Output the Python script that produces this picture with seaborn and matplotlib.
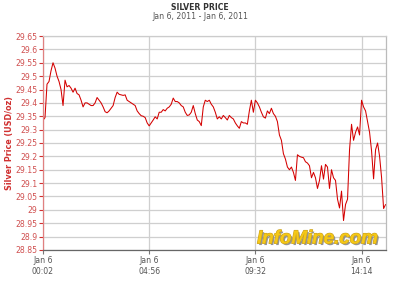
import matplotlib
matplotlib.use("Agg")
import matplotlib.pyplot as plt
import matplotlib.patheffects as pe
import seaborn as sns
import pandas as pd
import numpy as np

# ---- data ----
prices = [
    29.335, 29.345, 29.47, 29.48, 29.52, 29.55, 29.53, 29.50, 29.48, 29.45,
    29.39, 29.485, 29.46, 29.465, 29.455, 29.44, 29.455, 29.435, 29.43, 29.41,
    29.385, 29.40, 29.40, 29.395, 29.39, 29.39, 29.40, 29.42, 29.41, 29.40,
    29.385, 29.367, 29.363, 29.37, 29.38, 29.39, 29.42, 29.44, 29.432, 29.43,
    29.428, 29.43, 29.41, 29.405, 29.40, 29.395, 29.39, 29.37, 29.36, 29.352,
    29.35, 29.345, 29.325, 29.314, 29.325, 29.336, 29.348, 29.34, 29.365, 29.365,
    29.375, 29.37, 29.38, 29.385, 29.395, 29.418, 29.405, 29.405, 29.40, 29.39,
    29.385, 29.365, 29.353, 29.355, 29.365, 29.39, 29.36, 29.336, 29.33, 29.315,
    29.385, 29.41, 29.405, 29.41, 29.395, 29.385, 29.365, 29.34, 29.348, 29.34,
    29.353, 29.345, 29.336, 29.353, 29.345, 29.34, 29.325, 29.314, 29.305, 29.33,
    29.325, 29.325, 29.32, 29.37, 29.41, 29.365, 29.41, 29.40, 29.385, 29.365,
    29.348, 29.343, 29.37, 29.36, 29.38, 29.36, 29.35, 29.33, 29.28, 29.26,
    29.21, 29.19, 29.16, 29.15, 29.16, 29.14, 29.11, 29.206, 29.20, 29.197,
    29.195, 29.18, 29.175, 29.165, 29.12, 29.14, 29.12, 29.08, 29.11, 29.165,
    29.115, 29.17, 29.16, 29.08, 29.15, 29.12, 29.11, 29.04, 29.007, 29.07,
    28.96, 29.02, 29.04, 29.225, 29.32, 29.26, 29.29, 29.31, 29.28, 29.41,
    29.385, 29.37, 29.33, 29.29, 29.22, 29.116, 29.225, 29.25, 29.20, 29.12,
    29.005, 29.02,
]
tick_index = [0, 53, 106, 159]
tick_labels = ["Jan 6\n00:02", "Jan 6\n04:56", "Jan 6\n09:32", "Jan 6\n14:14"]
y_ticks = [28.85, 28.9, 28.95, 29.0, 29.05, 29.1, 29.15, 29.2, 29.25, 29.3,
           29.35, 29.4, 29.45, 29.5, 29.55, 29.6, 29.65]
y_tick_labels = ["28.85", "28.9", "28.95", "29", "29.05", "29.1", "29.15", "29.2",
                 "29.25", "29.3", "29.35", "29.4", "29.45", "29.5", "29.55", "29.6", "29.65"]

df = pd.DataFrame({"idx": np.arange(len(prices)), "price": prices})

sns.set_style("white")
plt.rcParams["font.family"] = ["DejaVu Sans"]

fig = plt.figure(figsize=(4.0, 2.86), dpi=100)
ax = fig.add_axes([0.1075, 0.126, 0.8565, 0.748])

red = "#d03030"
ax.set_yticks(y_ticks)
ax.set_yticklabels(y_tick_labels)
ax.set_xticks(tick_index)
ax.set_xticklabels(tick_labels)
ax.set_ylim(28.85, 29.65)
ax.set_xlim(0, len(prices) - 1)

ax.grid(True, color="#cfcfcf", linewidth=0.9)
ax.set_axisbelow(True)

sns.lineplot(data=df, x="idx", y="price", ax=ax, color="#d40000", linewidth=0.75)

ax.set_xlabel("")
ax.set_ylabel("Silver Price (USD/oz)", color=red, fontsize=5.8, fontweight="bold", labelpad=1)

ax.tick_params(axis="y", colors=red, labelsize=5.6, length=3, width=0.8, pad=1, direction="out", left=True)
ax.tick_params(axis="x", colors="#777777", labelsize=5.6, length=3, width=0.8, pad=1.5, direction="out", bottom=True)
for lab in ax.get_yticklabels():
    lab.set_color("#d05050")
for lab in ax.get_xticklabels():
    lab.set_color("#555555")

ax.spines["left"].set_color("#e08080")
ax.spines["bottom"].set_color("#666666")
ax.spines["top"].set_color("#cccccc")
ax.spines["right"].set_color("#bbbbbb")
for s in ax.spines.values():
    s.set_linewidth(0.9)

fig.text(0.5, 0.99, "SILVER PRICE", ha="center", va="top", fontsize=5.6,
         fontweight="bold", color="#333333")
fig.text(0.5, 0.958, "Jan 6, 2011 - Jan 6, 2011", ha="center", va="top",
         fontsize=5.6, color="#555555")

ax.text(0.978, 0.012, "InfoMine.com", transform=ax.transAxes, ha="right", va="bottom",
        fontsize=13.5, fontweight="bold", fontstyle="italic", color="#f5c816",
        family=["Liberation Sans"],
        path_effects=[pe.SimplePatchShadow(offset=(1.2, -1.2), shadow_rgbFace="#8a8a8a", alpha=0.9),
                      pe.withStroke(linewidth=0.8, foreground="#c8a020")])

fig.savefig("out.png", dpi=100, facecolor="white")
